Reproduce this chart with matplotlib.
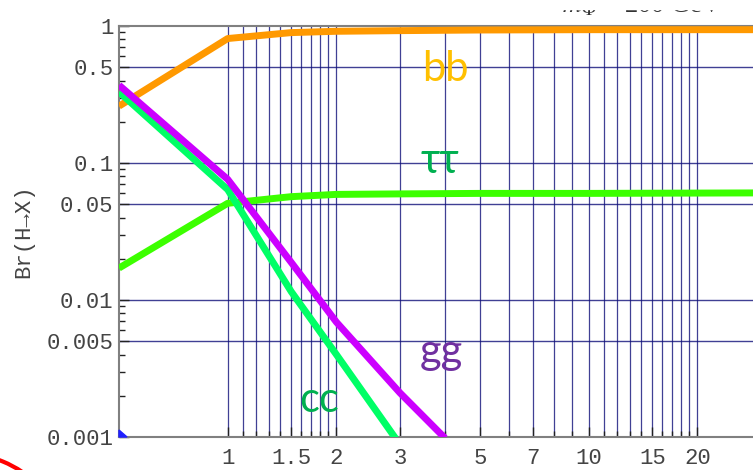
import numpy as np
import matplotlib.pyplot as plt
from matplotlib.patches import Arc, Polygon, Rectangle

# tan(beta) sample points and branching ratios for each decay channel
tanb_bb = [0.5, 1.0, 1.5, 2.0, 3.0, 5.0, 10.0, 30.0]
br_bb = [0.26, 0.81, 0.895, 0.915, 0.925, 0.935, 0.94, 0.94]

tanb_tau = [0.5, 1.0, 1.5, 2.0, 3.0, 5.0, 10.0, 30.0]
br_tau = [0.0171, 0.0508, 0.0568, 0.059, 0.0595, 0.06, 0.06, 0.0605]

tanb_gg = [0.5, 1.0, 1.5, 2.0, 3.0, 4.0]
br_gg = [0.37, 0.076, 0.0188, 0.0069, 0.0021, 0.00098]

tanb_cc = [0.5, 1.0, 1.5, 2.0, 3.0]
br_cc = [0.33, 0.064, 0.0115, 0.0040, 0.00088]

x_ticks = [1, 1.5, 2, 3, 5, 7, 10, 15, 20]
x_tick_labels = ["1", "1.5", "2", "3", "5", "7", "10", "15", "20"]
y_ticks = [0.001, 0.005, 0.01, 0.05, 0.1, 0.5, 1]
y_tick_labels = ["0.001", "0.005", "0.01", "0.05", "0.1", "0.5", "1"]
y_grid = [0.005, 0.01, 0.05, 0.1, 0.5]

plt.rcParams['mathtext.fontset'] = 'stix'
mono = ['Liberation Mono', 'DejaVu Sans Mono']

fig = plt.figure(figsize=(7.53, 4.70), dpi=100)
ax = fig.add_axes([119 / 753, 33 / 470, 642 / 753, 411 / 470])
ax.set_xscale('log')
ax.set_yscale('log')
ax.set_xlim(0.5, 30)
ax.set_ylim(0.001, 1)

# grid: every 0.1 between 1 and 2, then every integer up to 20
x_grid = list(np.arange(1.0, 2.05, 0.1)) + list(range(3, 21))
for gx in x_grid:
    ax.axvline(gx, color='#10107a', lw=0.9, alpha=0.8, zorder=1)
for gy in y_grid:
    ax.axhline(gy, color='#10107a', lw=1.0, alpha=0.8, zorder=1)

ax.plot(tanb_bb, br_bb, color='#ff9900', lw=5, zorder=3, solid_capstyle='butt')
ax.plot(tanb_tau, br_tau, color='#3cff00', lw=5, zorder=3, solid_capstyle='butt')
ax.plot(tanb_cc, br_cc, color='#00ff66', lw=5, zorder=3, solid_capstyle='butt')
ax.plot(tanb_gg, br_gg, color='#cc00ff', lw=5, zorder=4, solid_capstyle='butt')

lab = dict(family=['Lato', 'Noto Sans'], fontsize=30, ha='center', va='baseline')
ax.text(4.0, 0.40, 'bb', color='#ffc000', **lab)
ax.text(3.87, 0.085, 'ττ', color='#00b050', **lab)
ax.text(3.9, 0.0034, 'gg', color='#7030a0', **lab)
ax.text(1.79, 0.00153, 'cc', color='#00b050', **lab)

# ticks
ax.set_xticks(x_ticks)
ax.set_xticklabels(x_tick_labels)
ax.set_xticks(x_grid, minor=True)
ax.set_yticks(y_ticks)
ax.set_yticklabels(y_tick_labels)
y_minor = [m * 10.0 ** k for k in (-3, -2, -1) for m in range(2, 10)]
ax.set_yticks(y_minor, minor=True)
ax.tick_params(which='both', direction='in', colors='#222222', width=1,
               top=False, right=False)
ax.tick_params(which='major', length=7)
ax.tick_params(which='minor', length=4)
ax.tick_params(axis='x', which='both', labelsize=16, labelcolor='#444444', pad=8)
ax.tick_params(axis='y', which='both', labelsize=16, labelcolor='#444444', pad=4)
ax.xaxis.set_minor_formatter(plt.NullFormatter())
ax.yaxis.set_minor_formatter(plt.NullFormatter())
for t in ax.get_xticklabels() + ax.get_yticklabels():
    t.set_family(mono)

ax.set_ylabel('Br(H→X)', family=mono, fontsize=16, color='#444444', labelpad=9)

for side in ('left', 'bottom', 'top'):
    ax.spines[side].set_color('#808080')
    ax.spines[side].set_linewidth(1.5)
ax.spines['right'].set_visible(False)

# small corner marker at the origin
ax.add_patch(Polygon([(0, 0), (0, 0.017), (0.0125, 0)], closed=True,
                     transform=ax.transAxes, color='#2020ff', clip_on=False, zorder=5))

# header text, mostly cut off above
fig.text(562 / 753, (470 - 12) / 470, r'$m_\Phi$ = 200 GeV', family='Liberation Serif',
         fontsize=19, color='#333333', ha='left', va='baseline')
fig.add_artist(Rectangle((0, (470 - 9) / 470), 1, 9 / 470, transform=fig.transFigure,
                         color='white', zorder=10))

# red annotation arc in the lower-left corner
fig.add_artist(Arc((-0.40, -0.95), 2.24, 2.24, transform=fig.dpi_scale_trans,
                   color='red', lw=3, zorder=10))

fig.savefig('out.png', dpi=100)
